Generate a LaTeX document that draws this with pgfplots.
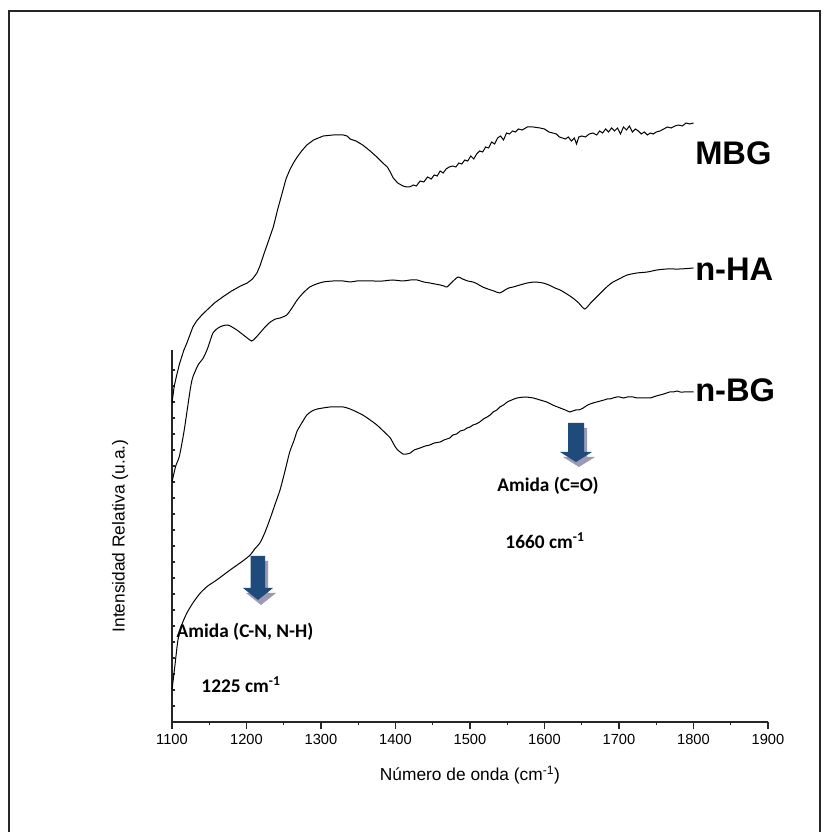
\documentclass[border=0pt]{standalone}
\usepackage{fontspec}
\setmainfont{Liberation Sans}
\newfontfamily\calibri{Carlito}
\usepackage{pgfplots}
\pgfplotsset{compat=1.18}
\definecolor{arrowblue}{HTML}{1F4A7C}
\definecolor{shadowgray}{HTML}{9C9AB2}

\begin{document}
\begin{tikzpicture}
\useasboundingbox (0,0) rectangle (616.5pt,624pt);
\draw[line width=1.2pt, black!85] (6.75pt,-20pt) -- (6.75pt,615.75pt) -- (615pt,615.75pt) -- (615pt,-20pt);
\begin{axis}[
  at={(129pt,82.5pt)}, anchor=south west,
  scale only axis, width=447pt, height=279pt,
  xmin=1100, xmax=1900, ymin=0, ymax=372,
  axis x line=bottom, axis y line=left,
  axis line style={-, line width=1.1pt, black!85},
  clip=false,
  xtick={1100,1200,...,1900},
  minor x tick num=1,
  ytick={1000},
  minor ytick={0,16,...,352},
  tick align=outside,
  major tick length=5.5pt,
  minor tick length=2.5pt,
  minor y tick style={xshift=2.5pt},
  tick style={black!85, line width=0.8pt},
  ticklabel style={font=\fontsize{11}{13}\selectfont},
  /pgf/number format/assume math mode=true,
  /pgf/number format/1000 sep={},
  xlabel={Número de onda (cm\textsuperscript{-1})},
  ylabel={Intensidad Relativa (u.a.)},
  label style={font=\fontsize{13}{15}\selectfont},
  xlabel style={at={(axis description cs:0.5,-0.1425)}, anchor=center},
  ylabel style={at={(axis description cs:-0.0872,0.5)}, anchor=center},
]
% n-BG
\addplot[black, line width=0.75pt, smooth, tension=0.4] coordinates {
(1100,32)(1104,57)(1108,82)(1113,97)(1120,109)(1128,119)(1138,129)(1148,136)(1160,142)(1178,152)(1195,161)(1205,167)(1211,173)(1218,179)(1225,190)(1232,204)(1238,217)(1245,232)(1252,252)(1258,270)(1264,282)(1268,291)(1275,300)(1281,307)(1288,311)(1295,313)(1312,315)(1330,315)(1339,313)(1348,310)(1356,307)(1366,302)(1375,297)(1385,290)(1393,284)(1399,276)(1403,272)(1410,268)(1415,268)(1420,269)(1425,272)(1433,274)(1440,276)(1446,277)(1452,279)(1460,280)(1465,282)(1469,283)(1473,284)(1477,287)(1482,288)(1487,291)(1492,292)(1496,294)(1500,295)(1504,297)(1508,298)(1513,300)(1518,303)(1523,305)(1527,307)(1531,310)(1536,312)(1540,315)(1545,317)(1550,320)(1556,322)(1563,324)(1574,325)(1585,324)(1594,322)(1603,320)(1611,317)(1621,314)(1628,312)(1634,310)(1638,311)(1642,312)(1646,312)(1652,314)(1658,317)(1665,319)(1670,320)(1675,321)(1680,322)(1684,323)(1688,323)(1692,324)(1697,325)(1701,325)(1706,324)(1711,325)(1715,325)(1719,325)(1724,324)(1728,324)(1733,324)(1738,324)(1742,324)(1746,325)(1750,326)(1755,327)(1760,328)(1764,329)(1768,330)(1773,330)(1778,331)(1782,330)(1787,330)(1791,330)(1796,330)(1800,330)
};
% n-HA
\addplot[black, line width=0.75pt, smooth, tension=0.4] coordinates {
(1100,240)(1105,256)(1110,266)(1116,290)(1121,315)(1125,335)(1128,345)(1135,357)(1142,364)(1148,374)(1155,389)(1164,395)(1175,397)(1187,392)(1201,384)(1207,381)(1212,384)(1218,389)(1225,395)(1232,400)(1239,403)(1245,404)(1254,407)(1261,414)(1268,422)(1276,429)(1285,435)(1294,438)(1303,440)(1316,441)(1330,441)(1339,440)(1348,441)(1356,441)(1370,441)(1383,441)(1396,442)(1410,441)(1420,442)(1429,442)(1438,440)(1446,439)(1453,438)(1460,437)(1465,436)(1469,435)(1476,440)(1484,445)(1490,443)(1497,441)(1504,440)(1510,438)(1517,435)(1524,433)(1532,431)(1540,429)(1547,432)(1552,434)(1558,435)(1567,437)(1577,439)(1587,440)(1598,439)(1606,437)(1614,434)(1621,432)(1630,428)(1638,424)(1646,419)(1654,413)(1662,419)(1670,425)(1678,431)(1685,436)(1692,440)(1700,443)(1711,447)(1724,449)(1738,450)(1751,452)(1764,453)(1782,453)(1800,454)
};
% MBG
\addplot[black, line width=0.75pt] coordinates {
(1100,319)(1103,336)(1107,349)(1110,358)(1113,365)(1116,372)(1120,379)(1124,387)(1128,395)(1133,401)(1140,407)(1147,412)(1157,419)(1168,425)(1180,431)(1192,436)(1201,439)(1208,443)(1214,449)(1218,456)(1222,465)(1229,480)(1236,495)(1242,513)(1249,532)(1253,543)(1258,552)(1263,559)(1268,565)(1274,571)(1281,577)(1290,582)(1303,586)(1316,587)(1330,587)(1335,586)(1339,583)(1347,581)(1356,577)(1366,571)(1375,565)(1383,559)(1389,555)(1393,550)(1397,544)(1403,539)(1410,536)(1415,535)(1419,535)(1424,537)(1428,536)(1433,541)(1438,540)(1443,545)(1448,543)(1452,547)(1456,546)(1460,551)(1464,549)(1468,553)(1472,555)(1477,556)(1481,555)(1485,559)(1489,558)(1493,562)(1497,561)(1501,566)(1505,563)(1509,568)(1513,571)(1517,570)(1521,575)(1525,574)(1529,580)(1533,578)(1537,584)(1541,586)(1545,582)(1549,589)(1553,588)(1557,591)(1561,590)(1565,593)(1570,592)(1577,595)(1585,595)(1594,594)(1600,593)(1606,590)(1611,589)(1616,588)(1620,585)(1624,584)(1628,583)(1632,585)(1636,581)(1640,584)(1643,578)(1646,585)(1650,586)(1655,585)(1660,588)(1665,589)(1670,587)(1674,591)(1678,589)(1682,593)(1686,590)(1690,594)(1694,591)(1698,594)(1702,588)(1706,595)(1710,592)(1714,596)(1718,590)(1722,593)(1726,591)(1730,588)(1734,590)(1738,587)(1742,589)(1746,588)(1750,590)(1755,591)(1760,593)(1765,595)(1770,594)(1775,596)(1780,597)(1785,596)(1790,599)(1795,598)(1800,599)
};
\end{axis}
\begin{scope}[x=0.75pt, y=-0.75pt, shift={(0pt,624pt)}]
  % arrow 1
  \fill[shadowgray] (253.5,561) -- (268,561) -- (268,593) -- (276,593) -- (261,605) -- (246,593) -- (253.5,593) -- cycle;
  \fill[arrowblue] (250.5,556) -- (265,556) -- (265,588) -- (273,588) -- (258,600) -- (243,588) -- (250.5,588) -- cycle;
  % arrow 2
  \fill[shadowgray] (571,428) -- (587,428) -- (587,457) -- (595,457) -- (579,467) -- (563,457) -- (571,457) -- cycle;
  \fill[arrowblue] (568,423) -- (584,423) -- (584,452) -- (592,452) -- (576,462) -- (560,452) -- (568,452) -- cycle;
  \node[font=\calibri\bfseries\fontsize{14.5}{17}\selectfont, inner sep=0pt] at (245,632) {Amida (C-N, N-H)};
  \node[font=\calibri\bfseries\fontsize{14.5}{17}\selectfont, inner sep=0pt] at (241,685) {1225 cm\textsuperscript{-1}};
  \node[font=\calibri\bfseries\fontsize{14.5}{17}\selectfont, inner sep=0pt] at (548,486) {Amida (C=O)};
  \node[font=\calibri\bfseries\fontsize{14.5}{17}\selectfont, inner sep=0pt] at (545,541) {1660 cm\textsuperscript{-1}};
  \node[font=\bfseries\fontsize{24.5}{28}\selectfont, inner sep=0pt, anchor=west] at (695,153) {MBG};
  \node[font=\bfseries\fontsize{24.5}{28}\selectfont, inner sep=0pt, anchor=west] at (695,269) {n-HA};
  \node[font=\bfseries\fontsize{24.5}{28}\selectfont, inner sep=0pt, anchor=west] at (695,390) {n-BG};
\end{scope}
\end{tikzpicture}
\end{document}
